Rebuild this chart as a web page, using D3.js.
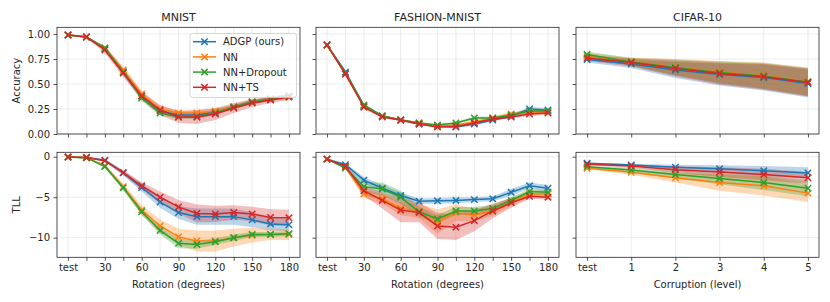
<!DOCTYPE html>
<html><head><meta charset="utf-8">
<script src="https://cdn.jsdelivr.net/npm/d3@7"></script>
<style>body{margin:0;background:#fff}svg{display:block}text{font-family:"DejaVu Sans",sans-serif;fill:#262626}</style>
</head><body>
<svg id="c" width="830" height="302"></svg>
<script>
const methods = ["ADGP (ours)", "NN", "NN+Dropout", "NN+TS"];
const colors = ["#1f77b4", "#ff7f0e", "#2ca02c", "#d62728"];
const titles = ["MNIST", "FASHION-MNIST", "CIFAR-10"];
const rotations = [0,15,30,45,60,75,90,105,120,135,150,165,180];
const rotationLabels = ["test","","30","","60","","90","","120","","150","","180"];
const corruptions = [0,1,2,3,4,5];
const corruptionLabels = ["test","1","2","3","4","5"];
const accTicks = [0,0.25,0.5,0.75,1.0];
const tllTicks = [-10,-5,0];

// MNIST accuracy (mean, sd) per method
const mnistAcc = [
 [0.99,0.97,0.85,0.62,0.38,0.23,0.19,0.19,0.22,0.27,0.32,0.35,0.38],
 [0.99,0.97,0.86,0.64,0.40,0.25,0.21,0.21,0.23,0.27,0.32,0.35,0.37],
 [0.99,0.97,0.86,0.62,0.36,0.21,0.17,0.17,0.21,0.27,0.32,0.35,0.38],
 [0.99,0.97,0.84,0.61,0.38,0.24,0.17,0.17,0.20,0.26,0.31,0.34,0.37]];
const mnistAccSd = [
 [0.003,0.005,0.02,0.03,0.03,0.025,0.02,0.02,0.02,0.02,0.02,0.02,0.02],
 [0.003,0.006,0.02,0.035,0.035,0.03,0.025,0.025,0.025,0.02,0.02,0.02,0.02],
 [0.003,0.006,0.02,0.03,0.03,0.025,0.02,0.02,0.02,0.02,0.02,0.02,0.02],
 [0.003,0.01,0.03,0.04,0.04,0.05,0.06,0.07,0.06,0.05,0.04,0.03,0.03]];
// MNIST test log-likelihood
const mnistTll = [
 [-0.05,-0.1,-0.45,-2.0,-3.8,-5.6,-6.9,-7.4,-7.4,-7.4,-7.8,-8.3,-8.4],
 [-0.05,-0.1,-1.15,-3.7,-6.6,-8.55,-9.9,-10.4,-10.4,-10.0,-9.7,-9.6,-9.6],
 [-0.05,-0.15,-1.2,-3.85,-6.8,-9.1,-10.7,-10.85,-10.5,-10.0,-9.6,-9.6,-9.5],
 [-0.05,-0.1,-0.5,-1.97,-3.6,-5.0,-6.2,-7.0,-7.07,-6.9,-7.07,-7.5,-7.55]];
const mnistTllSd = [
 [0.02,0.05,0.15,0.3,0.5,0.7,0.8,1.0,1.0,1.0,0.9,0.8,0.8],
 [0.02,0.05,0.2,0.4,0.6,0.8,1.0,1.3,1.3,1.1,0.9,0.7,0.7],
 [0.02,0.05,0.2,0.3,0.4,0.5,0.6,0.5,0.4,0.4,0.3,0.3,0.3],
 [0.02,0.05,0.15,0.3,0.45,0.7,0.85,1.1,1.0,0.9,0.9,1.0,1.0]];
// Fashion-MNIST accuracy
const fashionAcc = [
 [0.89,0.62,0.28,0.18,0.14,0.10,0.08,0.07,0.10,0.14,0.18,0.25,0.24],
 [0.89,0.60,0.27,0.18,0.14,0.11,0.08,0.09,0.12,0.16,0.20,0.22,0.22],
 [0.89,0.61,0.29,0.18,0.14,0.11,0.09,0.11,0.16,0.16,0.19,0.23,0.23],
 [0.89,0.60,0.27,0.17,0.14,0.10,0.07,0.075,0.11,0.15,0.17,0.20,0.21]];
const fashionAccSd = [
 [0.005,0.02,0.015,0.01,0.01,0.01,0.01,0.01,0.015,0.015,0.015,0.02,0.02],
 [0.005,0.02,0.015,0.01,0.01,0.01,0.01,0.01,0.015,0.015,0.02,0.02,0.02],
 [0.005,0.02,0.015,0.01,0.01,0.01,0.01,0.01,0.015,0.015,0.015,0.02,0.02],
 [0.005,0.02,0.015,0.01,0.01,0.01,0.01,0.01,0.015,0.015,0.015,0.02,0.02]];
// Fashion-MNIST test log-likelihood
const fashionTll = [
 [-0.3,-1.0,-2.9,-3.9,-4.8,-5.5,-5.45,-5.4,-5.3,-5.2,-4.4,-3.6,-3.9],
 [-0.3,-1.3,-4.6,-5.2,-6.4,-6.7,-8.0,-6.9,-7.2,-6.7,-5.6,-4.6,-4.6],
 [-0.3,-1.4,-3.7,-4.0,-5.0,-6.8,-7.7,-6.7,-6.7,-6.4,-5.4,-4.3,-4.4],
 [-0.3,-1.2,-4.2,-5.4,-6.6,-6.9,-8.55,-8.7,-7.9,-6.7,-5.7,-4.9,-5.0]];
const fashionTllSd = [
 [0.05,0.2,0.4,0.4,0.4,0.35,0.35,0.35,0.3,0.3,0.4,0.4,0.4],
 [0.05,0.2,0.5,0.6,0.8,0.9,1.5,1.0,0.8,0.6,0.5,0.4,0.4],
 [0.05,0.2,0.6,0.8,0.8,0.6,0.5,0.5,0.5,0.5,0.4,0.3,0.3],
 [0.05,0.2,0.6,1.0,1.5,1.2,1.6,1.6,1.3,0.9,0.6,0.3,0.3]];
// CIFAR-10 accuracy
const cifarAcc = [
 [0.745,0.70,0.64,0.595,0.565,0.505],
 [0.78,0.725,0.67,0.62,0.585,0.525],
 [0.795,0.72,0.665,0.615,0.58,0.52],
 [0.76,0.715,0.655,0.605,0.573,0.515]];
const cifarAccSd = [
 [0.03,0.04,0.08,0.11,0.13,0.14],
 [0.03,0.04,0.08,0.11,0.13,0.14],
 [0.03,0.04,0.08,0.11,0.13,0.14],
 [0.03,0.04,0.08,0.11,0.13,0.14]];
// CIFAR-10 test log-likelihood
const cifarTll = [
 [-0.82,-1.03,-1.3,-1.5,-1.75,-2.0],
 [-1.44,-1.93,-2.6,-3.2,-3.6,-4.5],
 [-1.23,-1.65,-2.2,-2.7,-3.2,-3.9],
 [-0.95,-1.15,-1.6,-1.9,-2.2,-2.6]];
const cifarTllSd = [
 [0.1,0.15,0.3,0.45,0.6,0.7],
 [0.1,0.3,0.6,1.0,1.2,1.1],
 [0.1,0.3,0.5,0.7,0.9,1.0],
 [0.1,0.2,0.4,0.6,0.7,0.7]];

const svg = d3.select("#c");
const lefts = [57, 316, 576], W = 243;
const rows = [{top: 27.3, bottom: 134, domain: [0, 1.067], ticks: accTicks, fmt: d3.format(".2f"), label: "Accuracy"},
              {top: 152.3, bottom: 257.3, domain: [-12.42, 0.54], ticks: tllTicks, fmt: d => String(d).replace("-", "\u2212"), label: "TLL"}];
const panels = [
 [{x: rotations, xl: rotationLabels, d: mnistAcc, s: mnistAccSd}, {x: rotations, xl: rotationLabels, d: mnistTll, s: mnistTllSd}],
 [{x: rotations, xl: rotationLabels, d: fashionAcc, s: fashionAccSd}, {x: rotations, xl: rotationLabels, d: fashionTll, s: fashionTllSd}],
 [{x: corruptions, xl: corruptionLabels, d: cifarAcc, s: cifarAccSd}, {x: corruptions, xl: corruptionLabels, d: cifarTll, s: cifarTllSd}]];
const xlabels = ["Rotation (degrees)", "Rotation (degrees)", "Corruption (level)"];

panels.forEach((col, ci) => {
  col.forEach((p, ri) => {
    const r = rows[ri];
    const xs = p.x;
    const xmax = xs[xs.length - 1], pad = xmax * 0.05;
    const x = d3.scaleLinear().domain([-pad, xmax + pad]).range([lefts[ci], lefts[ci] + W]);
    const y = d3.scaleLinear().domain(r.domain).range([r.bottom, r.top]);
    const g = svg.append("g");
    // grid
    g.selectAll(".gx").data(xs).enter().append("line")
      .attr("x1", d => x(d)).attr("x2", d => x(d)).attr("y1", r.top).attr("y2", r.bottom)
      .attr("stroke", "#b0b0b0").attr("stroke-opacity", 0.3).attr("stroke-width", 0.8);
    g.selectAll(".gy").data(r.ticks).enter().append("line")
      .attr("x1", lefts[ci]).attr("x2", lefts[ci] + W).attr("y1", d => y(d)).attr("y2", d => y(d))
      .attr("stroke", "#b0b0b0").attr("stroke-opacity", 0.3).attr("stroke-width", 0.8);
    // bands
    p.d.forEach((m, k) => {
      const area = d3.area().x((d, i) => x(xs[i])).y0((d, i) => y(d - p.s[k][i])).y1((d, i) => y(d + p.s[k][i]));
      g.append("path").attr("d", area(m)).attr("fill", colors[k]).attr("fill-opacity", 0.3);
    });
    // lines + markers
    p.d.forEach((m, k) => {
      const line = d3.line().x((d, i) => x(xs[i])).y(d => y(d));
      g.append("path").attr("d", line(m)).attr("fill", "none").attr("stroke", colors[k]).attr("stroke-width", 1.5);
      g.selectAll(null).data(m).enter().append("path")
        .attr("d", (d, i) => { const cx = x(xs[i]), cy = y(d), s = 3.2; return `M${cx-s},${cy-s}L${cx+s},${cy+s}M${cx-s},${cy+s}L${cx+s},${cy-s}`; })
        .attr("stroke", colors[k]).attr("stroke-width", 1.5).attr("fill", "none");
    });
    // axes
    const xa = d3.axisBottom(x).tickValues(xs).tickSize(3.5).tickPadding(3.5)
      .tickFormat((d, i) => ri === 1 ? p.xl[i] : "");
    const xg = g.append("g").attr("transform", `translate(0,${r.bottom})`).call(xa);
    const ya = d3.axisLeft(y).tickValues(r.ticks).tickSize(3.5).tickPadding(3.5)
      .tickFormat(d => ci === 0 ? r.fmt(d) : "");
    const yg = g.append("g").attr("transform", `translate(${lefts[ci]},0)`).call(ya);
    [xg, yg].forEach(a => {
      a.select(".domain").remove();
      a.selectAll("line").attr("stroke", "#262626").attr("stroke-width", 0.8);
      a.selectAll("text").attr("font-size", 10).attr("font-family", "DejaVu Sans").attr("fill", "#262626");
    });
    g.append("rect").attr("x", lefts[ci]).attr("y", r.top).attr("width", W).attr("height", r.bottom - r.top)
      .attr("fill", "none").attr("stroke", "#262626").attr("stroke-width", 0.8);
    if (ri === 0) g.append("text").attr("x", lefts[ci] + W / 2).attr("y", 21).attr("text-anchor", "middle").attr("font-size", 11).text(titles[ci]);
    if (ri === 1) g.append("text").attr("x", lefts[ci] + W / 2).attr("y", 288).attr("text-anchor", "middle").attr("font-size", 10).text(xlabels[ci]);
    if (ci === 0) g.append("text").attr("transform", `translate(19.5,${(r.top + r.bottom) / 2}) rotate(-90)`)
      .attr("text-anchor", "middle").attr("font-size", 10).text(r.label);
  });
});

// legend
const lg = svg.append("g");
lg.append("rect").attr("x", 190).attr("y", 33.5).attr("width", 106.5).attr("height", 64).attr("rx", 2.5)
  .attr("fill", "#fff").attr("fill-opacity", 0.8).attr("stroke", "#cccccc").attr("stroke-width", 0.8);
methods.forEach((m, k) => {
  const yy = 41.7 + k * 15.2;
  lg.append("line").attr("x1", 193).attr("x2", 216).attr("y1", yy).attr("y2", yy).attr("stroke", colors[k]).attr("stroke-width", 1.5);
  const cx = 204.5, s = 3.2;
  lg.append("path").attr("d", `M${cx-s},${yy-s}L${cx+s},${yy+s}M${cx-s},${yy+s}L${cx+s},${yy-s}`).attr("stroke", colors[k]).attr("stroke-width", 1.5);
  lg.append("text").attr("x", 223).attr("y", yy + 3.6).attr("font-size", 10).text(m);
});
</script>
</body></html>
